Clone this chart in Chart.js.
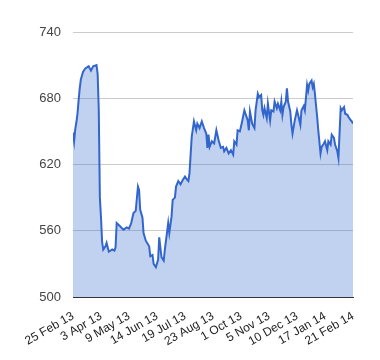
<!DOCTYPE html>
<html>
<head>
<meta charset="utf-8">
<script src="https://cdn.jsdelivr.net/npm/chart.js@4"></script>
<style>
  body { margin: 0; background: #fff; }
  #wrap { width: 380px; height: 360px; }
</style>
</head>
<body>
<div id="wrap"><canvas id="grafico"></canvas></div>
<script>
// trading day index (0 = 25 Feb 13) and closing value
const dayIndex = [0, 1, 2, 3, 4, 5, 6, 7, 9, 11, 14, 16, 18, 21, 22, 23, 24, 25, 26, 27, 29, 30, 32, 35, 37, 38, 39, 42, 45, 48, 50,
  52, 54, 56, 58, 59, 60, 62, 63, 65, 68, 69, 71, 72, 74, 76, 77, 79, 81, 82, 85, 86, 88, 89, 91, 92, 94, 96, 98, 100,
  102, 103, 104, 106, 108, 110, 111, 113, 115, 117, 119, 120, 121, 122, 124, 126, 128, 130, 132, 134, 135, 137, 139, 141, 143, 144, 146, 147, 149,
  151, 153, 154, 156, 157, 158, 160, 162, 163, 165, 166, 168, 169, 170, 171, 173, 174, 176, 177, 179, 180, 182, 183, 185, 186, 187, 188, 190,
  191, 192, 194, 195, 196, 198, 200, 201, 203, 204, 206, 207, 209, 210, 211, 213, 214, 215, 216, 218, 219, 221, 222, 224, 225, 227, 228, 230,
  231, 233, 234, 236, 237, 239, 240, 242, 243, 245, 246, 248, 249, 250];
const closeValues = [649, 641, 652, 658, 666, 678, 689, 697, 704, 707, 709, 705, 709, 710, 702, 670, 590, 572, 550, 543, 546, 549, 541, 543, 542, 545, 567, 564, 561, 563, 562,
  567, 576, 578, 600, 597, 579, 572, 558, 551, 546, 537, 538, 530, 527, 534, 554, 536, 533, 543, 567, 558, 573, 588, 590, 600, 605, 602, 606, 609,
  606, 605, 612, 645, 659, 651, 657, 653, 659, 653, 648, 635, 647, 636, 641, 639, 651, 642, 635, 636, 632, 635, 630, 633, 629, 641, 638, 651, 650,
  659, 669, 666, 660, 651, 668, 657, 653, 669, 684, 681, 683, 669, 665, 671, 662, 675, 660, 669, 668, 677, 671, 675, 669, 677, 665, 672, 677,
  689, 677, 668, 656, 648, 660, 669, 665, 656, 669, 673, 669, 692, 687, 693, 696, 690, 693, 684, 663, 651, 630, 636, 639, 641, 633, 641, 638,
  647, 644, 638, 632, 626, 671, 669, 672, 666, 665, 663, 660, 659, 657];
const tickLabels = ['25 Feb 13', '3 Apr 13', '9 May 13', '14 Jun 13', '19 Jul 13', '23 Aug 13',
  '1 Oct 13', '5 Nov 13', '10 Dec 13', '17 Jan 14', '21 Feb 14'];
const yTicks = [500, 560, 620, 680, 740];

const pontos = dayIndex.map((d, i) => ({ x: d, y: closeValues[i] }));

const ctx = document.getElementById('grafico').getContext('2d');
new Chart(ctx, {
    type: 'line',
    data: {
        datasets: [{
            data: pontos,
            borderColor: '#3366cc',
            backgroundColor: 'rgba(51, 102, 204, 0.3)',
            borderWidth: 2,
            fill: 'start',
            pointRadius: 0,
            tension: 0
        }]
    },
    options: {
        responsive: true,
        maintainAspectRatio: false,
        animation: false,
        layout: { padding: { top: 32, right: 27, left: 0, bottom: 0 } },
        plugins: { legend: { display: false }, tooltip: { enabled: false } },
        scales: {
            x: {
                type: 'linear',
                min: 0,
                max: 250,
                afterBuildTicks: s => { s.ticks = tickLabels.map((t, i) => ({ value: i * 25 })); },
                afterFit: s => { s.height = 63; },
                grid: { display: false },
                border: { display: true, color: '#333', width: 1 },
                ticks: {
                    autoSkip: false,
                    minRotation: 30,
                    maxRotation: 30,
                    padding: 4,
                    color: '#222',
                    font: { family: 'Liberation Sans, Arial', size: 12 },
                    callback: v => tickLabels[Math.round(v / 25)]
                }
            },
            y: {
                min: 500,
                max: 740,
                afterBuildTicks: s => { s.ticks = yTicks.map(v => ({ value: v })); },
                afterFit: s => { s.width = 73; },
                grid: { color: '#cccccc', drawTicks: false },
                border: { display: false },
                ticks: {
                    padding: 12,
                    color: '#444',
                    font: { family: 'Liberation Sans, Arial', size: 13 }
                }
            }
        }
    }
});
</script>
</body>
</html>
